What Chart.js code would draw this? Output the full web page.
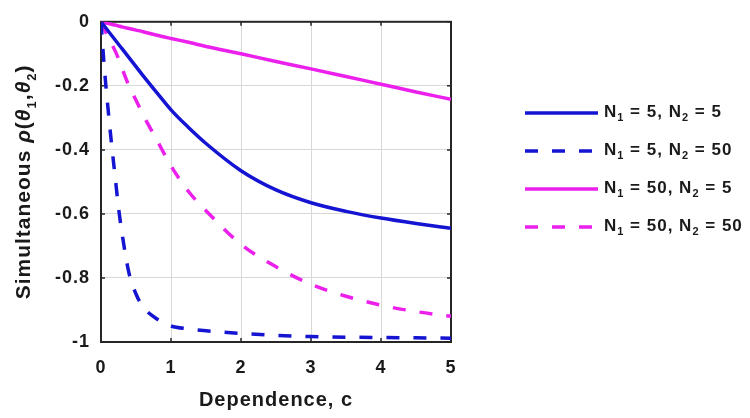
<!DOCTYPE html>
<html>
<head>
<meta charset="utf-8">
<title>Simultaneous rho vs dependence</title>
<script src="https://cdn.jsdelivr.net/npm/chart.js@4/dist/chart.umd.min.js"></script>
<style>
    html, body { margin: 0; padding: 0; background: #fff; }
    #chart { display: block; }
</style>
</head>
<body>
<canvas id="chart" width="750" height="418"></canvas>
<script>
// Dependence values c shared by all curves
const cValues = [0, 0.05, 0.1, 0.15, 0.2, 0.25, 0.3, 0.4, 0.5, 0.6, 0.8, 1, 1.25, 1.5, 2, 2.5, 3, 3.5, 4, 4.5, 5];

// Simultaneous rho for each (N1, N2) pair
const rhoN5N5 = [0, -0.014, -0.028, -0.042, -0.056, -0.07, -0.084, -0.112, -0.14, -0.168, -0.222, -0.275, -0.33, -0.38, -0.465, -0.525, -0.565, -0.592, -0.613, -0.63, -0.645];
const rhoN5N50 = [0, -0.15, -0.27, -0.38, -0.48, -0.58, -0.66, -0.785, -0.85, -0.89, -0.928, -0.95, -0.959, -0.965, -0.973, -0.979, -0.983, -0.985, -0.986, -0.987, -0.988];
const rhoN50N5 = [0, -0.003, -0.005, -0.008, -0.01, -0.013, -0.016, -0.021, -0.026, -0.031, -0.042, -0.052, -0.064, -0.077, -0.1, -0.124, -0.147, -0.171, -0.195, -0.219, -0.242];
const rhoN50N50 = [0, -0.024, -0.047, -0.068, -0.09, -0.115, -0.145, -0.2, -0.245, -0.29, -0.37, -0.45, -0.53, -0.59, -0.695, -0.765, -0.82, -0.857, -0.885, -0.905, -0.92];

const seriesLabels = ['N1 = 5, N2 = 5', 'N1 = 5, N2 = 50', 'N1 = 50, N2 = 5', 'N1 = 50, N2 = 50'];
const xTickLabels = ['0', '1', '2', '3', '4', '5'];
const yTickLabels = ['-1', '-0.8', '-0.6', '-0.4', '-0.2', '0'];

const BLUE = '#1414d2';
const MAGENTA = '#ec20ec';
const DASH = [13, 14];
const FONT = '"Liberation Sans", Arial, sans-serif';
const TEXT = '#1a1a1a';

function toPoints(values) {
    return cValues.map((c, i) => ({ x: c, y: values[i] }));
}

function makeSeries(label, values, color, dashed) {
    return {
        label: label,
        data: toPoints(values),
        borderColor: color,
        backgroundColor: color,
        borderWidth: 3.5,
        borderDash: dashed ? DASH : [],
        pointRadius: 0,
        cubicInterpolationMode: 'monotone',
        fill: false
    };
}

function partFont(p, size) {
    const fs = p.sub ? Math.round(size * 0.62) : size;
    return `${p.italic ? 'italic ' : ''}bold ${fs}px ${FONT}`;
}

// Draws a run of text pieces; pieces flagged sub sit lower and smaller
function drawRich(ctx, parts, x, y, size) {
    let cx = x;
    parts.forEach(p => {
        ctx.font = partFont(p, size);
        ctx.fillText(p.t, cx, y + (p.sub ? size * 0.38 : 0));
        cx += ctx.measureText(p.t).width;
    });
    return cx - x;
}

function measureRich(ctx, parts, size) {
    let w = 0;
    parts.forEach(p => {
        ctx.font = partFont(p, size);
        w += ctx.measureText(p.t).width;
    });
    return w;
}

// "N1" -> N with subscript 1
function splitLabel(label) {
    const parts = [];
    label.split(/(N\d)/).forEach(s => {
        if (!s) return;
        if (/^N\d$/.test(s)) {
            parts.push({ t: 'N' });
            parts.push({ t: s[1], sub: true });
        } else {
            parts.push({ t: s });
        }
    });
    return parts;
}

const framePlugin = {
    id: 'frame',
    beforeDraw(chart) {
        // slightly spaced lettering for all text, ticks included
        chart.ctx.letterSpacing = '1px';
    },
    beforeDatasetsDraw(chart) {
        const { ctx, chartArea: a, scales } = chart;
        ctx.save();
        ctx.strokeStyle = '#262626';
        ctx.lineWidth = 1.5;
        // inward tick marks on all four sides
        scales.x.ticks.forEach(t => {
            const px = scales.x.getPixelForValue(t.value);
            ctx.beginPath();
            ctx.moveTo(px, a.bottom); ctx.lineTo(px, a.bottom - 4);
            ctx.moveTo(px, a.top); ctx.lineTo(px, a.top + 4);
            ctx.stroke();
        });
        scales.y.ticks.forEach(t => {
            const py = scales.y.getPixelForValue(t.value);
            ctx.beginPath();
            ctx.moveTo(a.left, py); ctx.lineTo(a.left + 4, py);
            ctx.moveTo(a.right, py); ctx.lineTo(a.right - 4, py);
            ctx.stroke();
        });
        ctx.lineWidth = 2;
        ctx.strokeRect(a.left, a.top, a.right - a.left, a.bottom - a.top);
        ctx.restore();
    },
    afterDraw(chart) {
        const { ctx, chartArea: a } = chart;
        ctx.save();
        ctx.letterSpacing = '1px';
        ctx.fillStyle = TEXT;
        ctx.textBaseline = 'middle';

        // x axis title
        ctx.font = `bold 20px ${FONT}`;
        ctx.textAlign = 'center';
        ctx.fillText('Dependence, c', (a.left + a.right) / 2, 400);

        // y axis title, rotated
        ctx.textAlign = 'left';
        const yParts = [
            { t: 'Simultaneous ' },
            { t: 'ρ', italic: true },
            { t: '(' },
            { t: 'θ', italic: true },
            { t: '1', sub: true },
            { t: ',' },
            { t: 'θ', italic: true },
            { t: '2', sub: true },
            { t: ')' }
        ];
        const yw = measureRich(ctx, yParts, 21);
        ctx.translate(24, (a.top + a.bottom) / 2);
        ctx.rotate(-Math.PI / 2);
        drawRich(ctx, yParts, -yw / 2, 0, 21);
        ctx.setTransform(1, 0, 0, 1, 0, 0);

        // legend
        chart.data.datasets.forEach((ds, i) => {
            const ly = 113 + i * 38;
            ctx.strokeStyle = ds.borderColor;
            ctx.lineWidth = 3.5;
            ctx.setLineDash(ds.borderDash || []);
            ctx.beginPath();
            ctx.moveTo(525, ly);
            ctx.lineTo(598, ly);
            ctx.stroke();
            ctx.setLineDash([]);
            ctx.fillStyle = TEXT;
            drawRich(ctx, splitLabel(ds.label), 604, ly - 1, 17);
        });
        ctx.restore();
    }
};

new Chart(document.getElementById('chart'), {
    type: 'line',
    data: {
        datasets: [
            makeSeries(seriesLabels[0], rhoN5N5, BLUE, false),
            makeSeries(seriesLabels[1], rhoN5N50, BLUE, true),
            makeSeries(seriesLabels[2], rhoN50N5, MAGENTA, false),
            makeSeries(seriesLabels[3], rhoN50N50, MAGENTA, true)
        ]
    },
    options: {
        responsive: false,
        animation: false,
        devicePixelRatio: 1,
        layout: { padding: { left: 0, top: 10, right: 299, bottom: 0 } },
        plugins: {
            legend: { display: false },
            tooltip: { enabled: false }
        },
        scales: {
            x: {
                type: 'linear',
                min: 0,
                max: 5,
                afterFit: s => { s.height = 76; },
                grid: { color: '#d8d8d8', lineWidth: 1, drawTicks: false },
                border: { display: false },
                ticks: {
                    stepSize: 1,
                    padding: 15,
                    color: TEXT,
                    font: { family: FONT, size: 18, weight: 'bold' },
                    callback: (v, i) => xTickLabels[i]
                }
            },
            y: {
                min: -1,
                max: 0,
                afterFit: s => { s.width = 101; },
                grid: { color: '#d8d8d8', lineWidth: 1, drawTicks: false },
                border: { display: false },
                ticks: {
                    stepSize: 0.2,
                    padding: 11,
                    color: TEXT,
                    font: { family: FONT, size: 18, weight: 'bold' },
                    callback: (v, i) => yTickLabels[i]
                }
            }
        }
    },
    plugins: [framePlugin]
});
</script>
</body>
</html>
